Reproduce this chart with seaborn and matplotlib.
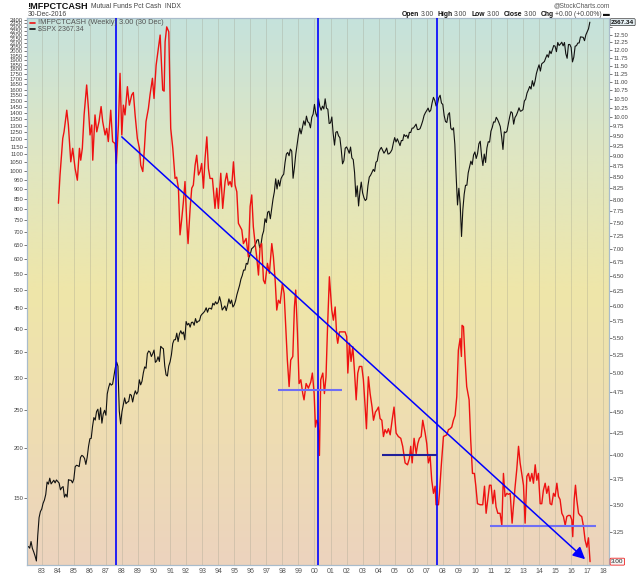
import numpy as np
import matplotlib
matplotlib.use("Agg")
import matplotlib.pyplot as plt
import seaborn as sns
from matplotlib.colors import LinearSegmentedColormap
from matplotlib.ticker import FixedLocator, NullLocator, FuncFormatter

# ---------------- data ----------------
# S&P 500 ($SPX), monthly readings starting Feb 1982 (left log axis)
spx_first_year = 1982
spx_first_month = 2
spx_values = [
    113.1, 112.0, 116.4, 111.9, 109.6, 107.1, 104.0, 120.4, 133.7, 138.5, 140.6,          # 1982
    145.3, 148.1, 153.0, 164.4, 162.4, 168.1, 162.6, 164.4, 166.1, 163.6, 166.4, 164.9,  # 1983
    163.4, 157.1, 159.2, 160.1, 150.6, 153.2, 150.7, 166.7, 166.1, 166.1, 163.6, 167.2,  # 1984
    179.6, 181.2, 180.7, 179.8, 189.6, 191.9, 190.9, 188.6, 182.1, 189.8, 202.2, 211.3,  # 1985
    211.8, 226.9, 238.9, 235.5, 247.4, 250.8, 236.1, 252.9, 231.3, 244.0, 249.2, 242.2,  # 1986
    274.1, 284.2, 291.7, 288.4, 290.1, 304.0, 318.7, 329.8, 321.8, 248.0, 230.3, 247.1,  # 1987
    257.1, 267.8, 258.9, 261.3, 262.2, 273.5, 272.0, 261.5, 271.9, 279.0, 273.7, 277.7,  # 1988
    297.5, 288.9, 294.9, 309.6, 320.5, 318.0, 346.1, 351.5, 349.2, 340.4, 346.0, 353.4,  # 1989
    329.1, 331.9, 339.9, 330.8, 361.2, 358.0, 356.2, 322.6, 306.1, 304.0, 322.2, 330.2,  # 1990
    343.9, 367.1, 375.2, 375.3, 389.8, 371.2, 387.8, 395.4, 387.9, 392.5, 375.2, 417.1,  # 1991
    408.8, 412.7, 403.7, 415.0, 415.4, 408.1, 424.2, 414.0, 417.8, 418.7, 431.4, 435.7,  # 1992
    438.8, 443.4, 451.7, 440.2, 450.2, 450.5, 448.1, 463.6, 458.9, 467.8, 461.8, 466.5,  # 1993
    481.6, 467.1, 445.8, 450.9, 456.5, 444.3, 458.3, 475.5, 462.7, 472.4, 453.7, 459.3,  # 1994
    470.4, 487.4, 500.7, 514.7, 533.4, 544.8, 562.1, 561.9, 584.4, 581.5, 605.4, 615.9,  # 1995
    636.0, 640.4, 645.5, 654.2, 669.1, 670.6, 640.0, 652.0, 687.3, 705.3, 757.0, 740.7,  # 1996
    786.2, 790.8, 757.1, 801.3, 848.3, 885.1, 954.3, 899.5, 947.3, 914.6, 955.4, 970.4,  # 1997
    980.3, 1049.3, 1101.8, 1111.8, 1090.8, 1133.8, 1120.7, 957.3, 1017.0, 1098.7, 1163.6, 1229.2,  # 1998
    1279.6, 1238.3, 1286.4, 1335.2, 1301.8, 1372.7, 1328.7, 1320.4, 1282.7, 1362.9, 1388.9, 1469.3,  # 1999
    1394.5, 1366.4, 1520.0, 1452.4, 1420.6, 1454.6, 1430.8, 1517.7, 1436.5, 1429.4, 1315.2, 1320.3,  # 2000
    1366.0, 1239.9, 1160.3, 1249.5, 1255.8, 1224.4, 1211.2, 1133.6, 1040.9, 1059.8, 1139.5, 1148.1,  # 2001
    1130.2, 1106.7, 1147.4, 1076.9, 1067.1, 989.8, 860.0, 916.1, 815.3, 885.8, 936.3, 879.8,  # 2002
    855.7, 841.2, 848.2, 916.9, 963.6, 974.5, 990.3, 1008.0, 996.0, 1050.7, 1058.2, 1111.9,  # 2003
    1131.1, 1144.9, 1126.2, 1107.3, 1120.7, 1140.8, 1101.7, 1104.2, 1114.6, 1130.2, 1173.8, 1211.9,  # 2004
    1181.3, 1203.6, 1180.6, 1156.9, 1191.5, 1191.3, 1234.2, 1220.3, 1228.8, 1207.0, 1249.5, 1248.3,  # 2005
    1280.1, 1280.7, 1294.8, 1310.6, 1270.1, 1270.2, 1276.7, 1303.8, 1335.9, 1377.9, 1400.6, 1418.3,  # 2006
    1438.2, 1406.8, 1420.9, 1482.4, 1530.6, 1503.4, 1455.3, 1474.0, 1526.8, 1549.4, 1481.1, 1468.4,  # 2007
    1378.6, 1330.6, 1322.7, 1385.6, 1400.4, 1280.0, 1267.4, 1282.8, 1166.4, 968.8, 820.0, 903.3,  # 2008
    825.9, 683.0, 797.9, 872.8, 919.1, 919.3, 987.5, 1020.6, 1057.1, 1036.2, 1095.6, 1115.1,  # 2009
    1073.9, 1104.5, 1169.4, 1186.7, 1089.4, 1030.7, 1101.6, 1049.3, 1141.2, 1183.3, 1180.6, 1257.6,  # 2010
    1286.1, 1327.2, 1325.8, 1363.6, 1345.2, 1320.6, 1292.3, 1218.9, 1131.4, 1253.3, 1247.0, 1257.6,  # 2011
    1312.4, 1365.7, 1408.5, 1397.9, 1310.3, 1362.2, 1379.3, 1406.6, 1440.7, 1412.2, 1416.2, 1426.2,  # 2012
    1498.1, 1514.7, 1569.2, 1597.6, 1630.7, 1606.3, 1685.7, 1633.0, 1681.6, 1756.5, 1805.8, 1848.4,  # 2013
    1782.6, 1859.5, 1872.3, 1884.0, 1923.6, 1960.2, 1930.7, 2003.4, 1972.3, 2018.1, 2067.6, 2058.9,  # 2014
    1995.0, 2104.5, 2067.9, 2085.5, 2107.4, 2063.1, 2103.8, 1972.2, 1920.0, 2079.4, 2080.4, 2043.9,  # 2015
    1880.0, 1932.2, 2059.7, 2065.3, 2097.0, 2098.9, 2173.6, 2171.0, 2168.3, 2126.2, 2198.8, 2238.8,  # 2016
    2278.9, 2367.34,                                                                      # 2017
]

# Mutual funds percent cash (!MFPCTCASH, right log axis)
cash_year = [
    1984.04, 1984.14, 1984.31, 1984.39, 1984.56, 1984.66, 1984.81, 1984.93, 1985.08, 1985.22,
    1985.35, 1985.43, 1985.53, 1985.64, 1985.80, 1985.91, 1986.01, 1986.12, 1986.18, 1986.32,
    1986.43, 1986.57, 1986.70, 1986.80, 1986.95, 1987.05, 1987.15, 1987.30, 1987.42, 1987.57,
    1987.65, 1987.78, 1987.88, 1987.99, 1988.09, 1988.19, 1988.34, 1988.46, 1988.61, 1988.71,
    1988.82, 1988.96, 1989.09, 1989.17, 1989.30, 1989.40, 1989.50, 1989.65, 1989.75, 1989.90,
    1990.00, 1990.13, 1990.27, 1990.38, 1990.44, 1990.54, 1990.63, 1990.69, 1990.79, 1990.92,
    1991.04, 1991.17, 1991.31, 1991.41, 1991.52, 1991.62, 1991.73, 1991.83, 1991.93, 1992.04,
    1992.12, 1992.25, 1992.35, 1992.45, 1992.56, 1992.66, 1992.77, 1992.87, 1992.97, 1993.08,
    1993.18, 1993.29, 1993.39, 1993.49, 1993.64, 1993.80, 1993.91, 1994.01, 1994.16, 1994.28,
    1994.43, 1994.53, 1994.64, 1994.74, 1994.84, 1994.95, 1995.05, 1995.16, 1995.26, 1995.47,
    1995.57, 1995.74, 1995.88, 1995.99, 1996.09, 1996.19, 1996.30, 1996.40, 1996.51, 1996.61,
    1996.71, 1996.82, 1996.92, 1997.07, 1997.19, 1997.34, 1997.44, 1997.55, 1997.65, 1997.75,
    1997.86, 1998.00, 1998.11, 1998.23, 1998.31, 1998.42, 1998.52, 1998.65, 1998.75, 1998.83,
    1998.94, 1999.04, 1999.15, 1999.27, 1999.35, 1999.48, 1999.62, 1999.77, 1999.87, 1999.98,
    2000.06, 2000.14, 2000.23, 2000.31, 2000.39, 2000.52, 2000.62, 2000.72, 2000.81, 2000.93,
    2001.08, 2001.18, 2001.29, 2001.39, 2001.45, 2001.56, 2001.81, 2001.91, 2002.01, 2002.08,
    2002.18, 2002.28, 2002.39, 2002.49, 2002.60, 2002.70, 2002.80, 2002.95, 2003.05, 2003.16,
    2003.24, 2003.36, 2003.47, 2003.59, 2003.68, 2003.80, 2003.88, 2003.99, 2004.09, 2004.20,
    2004.30, 2004.40, 2004.51, 2004.61, 2004.72, 2004.84, 2004.96, 2005.09, 2005.23, 2005.38,
    2005.50, 2005.65, 2005.80, 2005.92, 2006.00, 2006.09, 2006.21, 2006.34, 2006.44, 2006.54,
    2006.65, 2006.75, 2006.90, 2007.00, 2007.10, 2007.21, 2007.31, 2007.42, 2007.52, 2007.58,
    2007.73, 2007.79, 2007.90, 2008.04, 2008.25, 2008.35, 2008.46, 2008.56, 2008.66, 2008.77,
    2008.87, 2008.97, 2009.08, 2009.16, 2009.20, 2009.29, 2009.39, 2009.49, 2009.64, 2009.74,
    2009.85, 2009.97, 2010.06, 2010.16, 2010.33, 2010.49, 2010.60, 2010.70, 2010.80, 2010.91,
    2011.01, 2011.12, 2011.22, 2011.32, 2011.43, 2011.57, 2011.68, 2011.78, 2011.88, 2011.99,
    2012.09, 2012.20, 2012.32, 2012.40, 2012.51, 2012.61, 2012.72, 2012.82, 2012.92, 2013.03,
    2013.13, 2013.24, 2013.34, 2013.44, 2013.55, 2013.65, 2013.76, 2013.86, 2013.96, 2014.07,
    2014.17, 2014.27, 2014.38, 2014.48, 2014.59, 2014.69, 2014.79, 2014.90, 2015.00, 2015.11,
    2015.21, 2015.31, 2015.42, 2015.52, 2015.63, 2015.73, 2015.83, 2015.94, 2016.04, 2016.10,
    2016.19, 2016.27, 2016.35, 2016.46, 2016.56, 2016.66, 2016.77, 2016.87, 2016.98, 2017.08,
    2017.18,
]
cash_pct = [
    7.92, 8.55, 9.44, 9.61, 10.19, 9.79, 8.86, 9.19, 8.70, 8.43,
    9.19, 8.90, 9.19, 10.06, 10.91, 10.24, 9.53, 9.79, 8.90, 10.06,
    9.61, 9.88, 10.29, 9.88, 9.53, 9.70, 9.36, 10.19, 9.36, 9.31,
    8.82, 9.79, 11.26, 9.53, 10.33, 10.06, 10.86, 10.33, 10.62, 10.69,
    10.06, 9.44, 9.19, 8.78, 8.63, 9.19, 9.88, 10.24, 10.62, 11.11,
    10.52, 11.51, 12.05, 12.49, 11.83, 10.76, 10.73, 12.26, 12.77, 12.60,
    9.70, 9.19, 8.47, 8.50, 8.25, 7.27, 7.60, 7.95, 8.40, 7.53,
    7.10, 7.81, 8.25, 8.32, 8.78, 9.02, 8.55, 8.63, 8.82, 8.25,
    8.94, 9.48, 8.70, 8.47, 8.47, 7.81, 8.25, 7.81, 8.59, 7.81,
    8.40, 8.59, 8.32, 8.40, 8.28, 8.86, 8.32, 8.17, 7.50, 7.37,
    7.10, 7.20, 6.85, 7.85, 8.10, 7.43, 7.10, 6.85, 6.52, 7.04,
    7.10, 6.43, 6.37, 6.73, 6.55, 7.10, 6.85, 6.43, 5.93, 6.09,
    6.04, 6.37, 6.20, 5.57, 5.18, 4.82, 5.18, 5.23, 5.98, 6.26,
    5.57, 4.86, 4.91, 4.73, 4.65, 4.86, 4.80, 4.88, 5.00, 4.73,
    4.32, 4.40, 4.36, 4.00, 4.91, 5.00, 4.73, 4.95, 5.62, 6.49,
    5.93, 5.77, 5.98, 5.52, 5.42, 5.59, 5.59, 5.59, 5.52, 5.00,
    5.42, 5.16, 5.37, 5.04, 4.65, 5.00, 5.09, 5.09, 4.91, 4.56,
    4.30, 4.95, 4.73, 4.56, 4.40, 4.50, 4.52, 4.56, 4.42, 4.40,
    4.21, 4.29, 4.25, 4.30, 4.23, 4.40, 4.56, 4.25, 4.21, 4.19,
    4.10, 3.92, 3.90, 3.97, 4.10, 3.92, 4.19, 4.02, 4.13, 4.19,
    4.21, 4.40, 4.25, 4.13, 3.92, 3.99, 3.74, 3.61, 3.68, 3.50,
    3.50, 3.61, 3.88, 4.21, 4.23, 4.29, 4.30, 4.32, 4.40, 4.46,
    4.69, 5.32, 5.49, 5.23, 5.69, 5.67, 5.18, 4.82, 4.65, 4.17,
    3.81, 3.81, 3.68, 3.51, 3.50, 3.50, 3.68, 3.42, 3.55, 3.69,
    3.69, 3.51, 3.64, 3.48, 3.42, 3.42, 3.31, 3.81, 3.58, 3.61,
    3.60, 3.61, 3.33, 3.48, 3.68, 3.85, 4.10, 3.92, 3.81, 3.69,
    3.33, 3.78, 3.81, 3.73, 3.81, 3.71, 3.90, 3.74, 3.81, 3.51,
    3.51, 3.64, 3.71, 3.61, 3.68, 3.51, 3.50, 3.61, 3.58, 3.71,
    3.58, 3.55, 3.42, 3.39, 3.31, 3.39, 3.40, 3.40, 3.36, 3.21,
    3.55, 3.69, 3.55, 3.42, 3.40, 3.39, 3.30, 3.18, 3.12, 3.20,
    3.00,
]

# annotation lines drawn by the chart author
marker_years = [1987.61, 2000.23, 2007.66]
trend_from = (1987.99, 9.48)
trend_to = (2016.87, 3.02)
support_level = [4.77, 4.00, 3.30]
support_start = [1997.75, 2004.20, 2010.95]
support_end = [2001.70, 2007.66, 2017.56]
support_color = ["#6f6ff5", "#20209a", "#6f6ff5"]

year_ticks = list(range(1983, 2019))
spx_ticks = list(range(150, 2401, 50))
cash_ticks = [3.0 + 0.25 * i for i in range(40)]
cash_grid = [3.0 + 0.25 * i for i in range(12)] + [6.0 + 0.5 * i for i in range(1, 14)]
hidden_cash_labels = [3.0, 12.75]   # covered by the last-value boxes

# ---------------- figure ----------------
sns.set_theme(style="white")
plt.rcParams["font.family"] = ["Liberation Sans", "DejaVu Sans"]

W, H = 640, 576
fig = plt.figure(figsize=(6.4, 5.76), dpi=100)
fig.patch.set_facecolor("white")
L, R, T, B = 27.3, 609.0, 18.3, 565.0
ax = fig.add_axes([L / W, 1 - B / H, (R - L) / W, (B - T) / H])
ax2 = ax.twinx()

# background gradient (teal -> yellow -> peach)
cmap = LinearSegmentedColormap.from_list(
    "bg", [(0.0, "#ecd3be"), (0.22, "#eedcb3"), (0.5, "#efe6a9"),
           (0.75, "#dfe6c2"), (1.0, "#c5e2dc")])
grad = np.linspace(0, 1, 256).reshape(-1, 1)
ax.imshow(grad, cmap=cmap, aspect="auto", extent=[0, 1, 0, 1],
          transform=ax.transAxes, origin="lower", zorder=0, interpolation="bilinear")

spx_t = spx_first_year + (spx_first_month + np.arange(len(spx_values))) / 12.0

sns.lineplot(x=spx_t, y=spx_values, ax=ax, color="#111111", linewidth=0.8,
             estimator=None, sort=False, legend=False, zorder=3)
sns.lineplot(x=cash_year, y=cash_pct, ax=ax2, color="#ee1111", linewidth=1.0,
             estimator=None, sort=False, legend=False, zorder=3)

ax.set_yscale("log")
ax2.set_yscale("log")
ax.set_xlim(1982.10, 2018.36)
ax.set_ylim(101.6, 2421)
ax2.set_ylim(2.973, 13.07)

# grid
ax.xaxis.set_major_locator(FixedLocator(year_ticks))
ax.xaxis.set_major_formatter(FuncFormatter(lambda v, p: "%02d" % (int(round(v)) % 100)))
ax.grid(True, axis="x", color="#9a9a88", alpha=0.35, linewidth=0.6)
ax.grid(False, axis="y")
ax2.yaxis.set_major_locator(FixedLocator(cash_ticks))
ax2.yaxis.set_major_formatter(FuncFormatter(
    lambda v, p: "" if any(abs(v - h) < 1e-6 for h in hidden_cash_labels) else "%.2f" % v))
ax2.yaxis.set_minor_locator(FixedLocator(cash_grid))
ax2.grid(True, which="minor", axis="y", color="#9a9a88", alpha=0.35, linewidth=0.6)
ax2.grid(False, which="major")
ax2.tick_params(axis="y", which="minor", length=0)

ax.yaxis.set_major_locator(FixedLocator(spx_ticks))
ax.yaxis.set_minor_locator(NullLocator())
ax.yaxis.set_major_formatter(FuncFormatter(lambda v, p: "%d" % int(round(v))))

ax.tick_params(axis="y", left=True, right=False, length=2, width=0.5, pad=1,
               labelsize=4.2, colors="#444444")
ax.tick_params(axis="x", bottom=True, length=0, pad=2, labelsize=5, colors="#555555")
ax2.tick_params(axis="y", which="major", right=True, length=2, width=0.5, pad=1,
                labelsize=4.2, colors="#444444")
ax.set_xlabel("")
ax.set_ylabel("")
ax2.set_ylabel("")

for a in (ax, ax2):
    for s in a.spines.values():
        s.set_color("#a9bccb")
        s.set_linewidth(0.8)
ax2.spines["right"].set_linestyle((0, (1, 1)))

# annotations
for yr in marker_years:
    ax2.axvline(yr, color="#0000ff", linewidth=1.2, zorder=5)
ax2.hlines(support_level, support_start, support_end, colors=support_color,
           linewidth=1.5, zorder=5)
ax2.annotate("", xy=trend_to, xytext=trend_from,
             arrowprops=dict(arrowstyle="-|>,head_length=0.6,head_width=0.3",
                             color="#0000ff", linewidth=1.1, shrinkA=0, shrinkB=0),
             zorder=6)

# last value boxes
ax.annotate("%.2f" % spx_values[-1], xy=(1, spx_values[-1]),
            xycoords=("axes fraction", "data"), xytext=(1.5, 0),
            textcoords="offset points", ha="left", va="center", fontsize=4.6,
            fontweight="bold", color="#111111", zorder=10, annotation_clip=False,
            bbox=dict(boxstyle="round,pad=0.15", fc="#e6f1f5", ec="#333333", lw=0.5))
ax2.annotate("%.2f" % cash_pct[-1], xy=(1, cash_pct[-1]),
             xycoords=("axes fraction", "data"), xytext=(1.5, 0),
             textcoords="offset points", ha="left", va="center", fontsize=4.6,
             color="#222222", zorder=10, annotation_clip=False,
             bbox=dict(boxstyle="round,pad=0.15", fc="#f6f6f6", ec="#ee2222", lw=0.6))

# header texts
renderer = fig.canvas.get_renderer()


def run(pieces, x_px, y_px, align="left"):
    items = []
    total = 0.0
    for txt, kw, gap in pieces:
        t = fig.text(0, 0, txt, va="center", **kw)
        w = t.get_window_extent(renderer).width
        items.append((t, w, gap))
        total += w + gap
    x = x_px - total if align == "right" else x_px
    for t, w, gap in items:
        t.set_position((x / W, 1 - y_px / H))
        x += w + gap


run([("!MFPCTCASH", dict(fontsize=6.6, fontweight="bold", color="#111111"), 2.5),
     ("Mutual Funds Pct Cash  INDX", dict(fontsize=4.9, color="#444444"), 0)],
    27.5, 6.5)
fig.text(27.5 / W, 1 - 14.6 / H, "30-Dec-2016", fontsize=4.9, color="#444444", va="center")
fig.text(610 / W, 1 - 5.5 / H, "@StockCharts.com", fontsize=4.7, color="#555555",
         va="center", ha="right")
bold = dict(fontsize=4.9, fontweight="bold", color="#111111")
norm = dict(fontsize=4.9, color="#444444")
run([("Open", bold, 1.5), ("3.00", norm, 4), ("High", bold, 1.5), ("3.00", norm, 4),
     ("Low", bold, 1.5), ("3.00", norm, 4), ("Close", bold, 1.5), ("3.00", norm, 4),
     ("Chg", bold, 1.5), ("+0.00 (+0.00%)", norm, 1.5), ("\u25ac", bold, 0)],
    610, 14.7, align="right")

# in-chart legend
fig.add_artist(plt.Line2D([30 / W, 35 / W], [1 - 22.7 / H] * 2, color="#ee1111", linewidth=1.2))
fig.add_artist(plt.Line2D([30 / W, 35 / W], [1 - 29.3 / H] * 2, color="#111111", linewidth=1.2))
fig.text(37.5 / W, 1 - 22.7 / H, "!MFPCTCASH (Weekly) 3.00 (30 Dec)", fontsize=5.3,
         color="#555555", va="center")
fig.text(37.5 / W, 1 - 29.3 / H, "$SPX 2367.34", fontsize=5.0, color="#555555", va="center")

fig.savefig("out.png", dpi=100, facecolor="white")
